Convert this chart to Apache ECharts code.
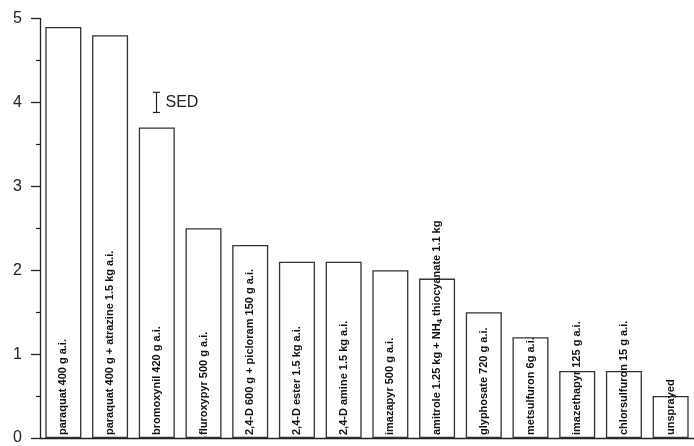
<!DOCTYPE html>
<html><head><meta charset="utf-8">
<script src="https://cdn.jsdelivr.net/npm/echarts@6/dist/echarts.min.js"></script>
<style>html,body{margin:0;padding:0;background:#fff}#c{width:694px;height:446px}</style>
</head><body><div id="c"></div>
<script>
const categories = [
  "paraquat 400 g a.i.",
  "paraquat 400 g + atrazine 1.5 kg a.i.",
  "bromoxynil 420 g a.i.",
  "fluroxypyr 500 g a.i.",
  "2,4-D 600 g + picloram 150 g a.i.",
  "2,4-D ester 1.5 kg a.i.",
  "2,4-D amine 1.5 kg a.i.",
  "imazapyr 500 g a.i.",
  "amitrole 1.25 kg + NH{sub|4} thiocyanate 1.1 kg",
  "glyphosate 720 g a.i.",
  "metsulfuron 6g a.i.",
  "imazethapyr 125 g a.i.",
  "chlorsulfuron 15 g a.i.",
  "unsprayed"
];
const values = [4.9, 4.8, 3.7, 2.5, 2.3, 2.1, 2.1, 2.0, 1.9, 1.5, 1.2, 0.8, 0.8, 0.5];
// SED bar: [category index, low, high]
const sedBar = [2, 3.88, 4.12];
const sedLabel = "SED";
const yMin = 0, yMax = 5, yStep = 1;

const chart = echarts.init(document.getElementById('c'), null, {renderer: 'canvas'});
chart.setOption({
  animation: false,
  backgroundColor: '#fff',
  grid: {left: 40, right: -5, top: 18.5, bottom: 4.5, containLabel: false},
  xAxis: {
    type: 'category',
    data: categories,
    axisLine: {show: true, lineStyle: {color: '#222', width: 1.3}},
    axisTick: {show: false},
    axisLabel: {show: false},
    splitLine: {show: false}
  },
  yAxis: {
    type: 'value',
    min: yMin, max: yMax, interval: yStep,
    axisLine: {show: true, lineStyle: {color: '#222', width: 1.3}},
    axisTick: {show: true, length: 9, lineStyle: {color: '#222', width: 1.3}},
    minorTick: {show: true, splitNumber: 2, length: 4, lineStyle: {color: '#222', width: 1.2}},
    axisLabel: {color: '#222', fontSize: 16, fontFamily: 'Liberation Sans, Arial, sans-serif', margin: 18},
    splitLine: {show: false}
  },
  series: [
    {
      type: 'bar',
      data: values,
      barWidth: 36,
      itemStyle: {color: '#fff', borderColor: '#333', borderWidth: 1.3},
      label: {
        show: true,
        position: 'insideBottom',
        rotate: 90,
        align: 'left',
        verticalAlign: 'middle',
        distance: 3,
        color: '#111',
        fontSize: 11,
        fontWeight: 'bold',
        fontFamily: 'Liberation Sans, Arial, sans-serif',
        lineHeight: 14,
        formatter: p => categories[p.dataIndex],
        rich: {sub: {fontSize: 8, lineHeight: 8, verticalAlign: 'bottom', fontWeight: 'bold', color: '#111', fontFamily: 'Liberation Sans, Arial, sans-serif'}}
      }
    },
    {
      type: 'custom',
      data: [sedBar],
      renderItem: (params, api) => {
        const top = api.coord([api.value(0), api.value(2)]);
        const bot = api.coord([api.value(0), api.value(1)]);
        const x = Math.round(top[0]) - 0.5;
        const hw = 3.5;
        const st = {stroke: '#222', lineWidth: 1.2};
        return {
          type: 'group',
          children: [
            {type: 'line', shape: {x1: x, y1: top[1], x2: x, y2: bot[1]}, style: st},
            {type: 'line', shape: {x1: x - hw, y1: top[1], x2: x + hw, y2: top[1]}, style: st},
            {type: 'line', shape: {x1: x - hw, y1: bot[1], x2: x + hw, y2: bot[1]}, style: st},
            {type: 'text', style: {x: x + 9, y: (top[1] + bot[1]) / 2, text: sedLabel, fill: '#222', fontSize: 16, fontFamily: 'Liberation Sans, Arial, sans-serif', verticalAlign: 'middle', align: 'left'}}
          ]
        };
      }
    }
  ]
});
</script></body></html>
